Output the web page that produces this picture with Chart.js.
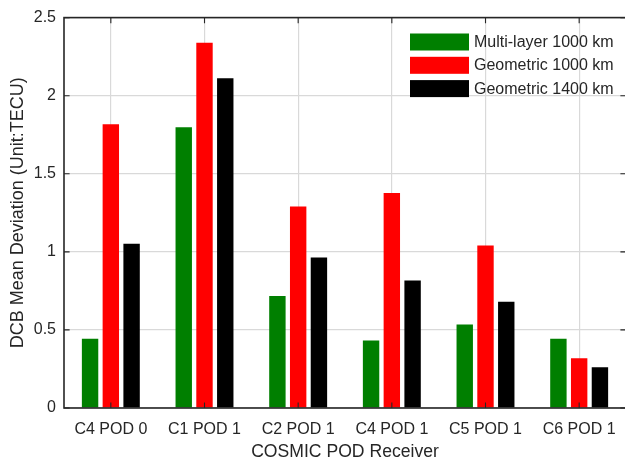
<!DOCTYPE html>
<html>
<head>
<meta charset="utf-8">
<title>COSMIC POD Receiver DCB Mean Deviation</title>
<script src="https://cdn.jsdelivr.net/npm/chart.js@4.4.1/dist/chart.umd.min.js"></script>
<style>
  html, body { margin: 0; padding: 0; background: #ffffff; overflow: hidden; }
  #wrap { position: relative; width: 625px; height: 463px; overflow: hidden; }
  canvas { position: absolute; left: 0; top: 0; }
</style>
</head>
<body>
<div id="wrap"><canvas id="chart" width="628" height="463"></canvas></div>
<script>
// Receivers on the x axis
const receivers = ['C4 POD 0', 'C1 POD 1', 'C2 POD 1', 'C4 POD 1', 'C5 POD 1', 'C6 POD 1'];

// DCB mean deviation per receiver (TECU)
const multiLayer1000 = [0.443, 1.798, 0.717, 0.433, 0.534, 0.443];
const geometric1000  = [1.817, 2.339, 1.291, 1.376, 1.041, 0.318];
const geometric1400  = [1.052, 2.112, 0.963, 0.816, 0.681, 0.261];

// Y axis ticks
const yTickValues = [0, 0.5, 1, 1.5, 2, 2.5];
const yTickLabels = ['0', '0.5', '1', '1.5', '2', '2.5'];

const seriesNames  = ['Multi-layer 1000 km', 'Geometric 1000 km', 'Geometric 1400 km'];
const seriesColors = ['#007f00', '#ff0000', '#000000'];

const FONT = '"Liberation Sans", Arial, Helvetica, sans-serif';
const INK = '#262626';
const GRID = '#d9d9d9';

// Box around the plot with short inward tick marks on all four sides
const framePlugin = {
  id: 'frame',
  afterDatasetsDraw(chart) {
    const { ctx, chartArea: a, scales } = chart;
    const len = 5.6;
    ctx.save();
    ctx.strokeStyle = INK;
    ctx.lineWidth = 1.1;
    ctx.beginPath();
    scales.x.ticks.forEach((t, i) => {
      const x = scales.x.getPixelForTick(i);
      ctx.moveTo(x, a.bottom); ctx.lineTo(x, a.bottom - len);
      ctx.moveTo(x, a.top);    ctx.lineTo(x, a.top + len);
    });
    scales.y.ticks.forEach((t, i) => {
      const y = scales.y.getPixelForValue(t.value);
      ctx.moveTo(a.left, y);  ctx.lineTo(a.left + len, y);
      ctx.moveTo(a.right, y); ctx.lineTo(a.right - len, y);
    });
    ctx.stroke();
    ctx.lineWidth = 1.6;
    ctx.strokeRect(a.left, a.top, a.right - a.left, a.bottom - a.top);
    ctx.restore();
  }
};

// Legend placed inside the upper right of the plot
const insideLegend = {
  id: 'insideLegend',
  afterDraw(chart) {
    const { ctx } = chart;
    const x0 = 410, y0 = 33.5, boxW = 59, boxH = 17, step = 23.3;
    ctx.save();
    ctx.font = '16px ' + FONT;
    ctx.textBaseline = 'middle';
    ctx.textAlign = 'left';
    chart.data.datasets.forEach((ds, i) => {
      const y = y0 + i * step;
      ctx.fillStyle = ds.backgroundColor;
      ctx.fillRect(x0, y, boxW, boxH);
      ctx.fillStyle = INK;
      ctx.fillText(ds.label, x0 + boxW + 5, y + boxH / 2 + 0.5);
    });
    ctx.restore();
  }
};

const datasets = [multiLayer1000, geometric1000, geometric1400].map((values, i) => ({
  label: seriesNames[i],
  data: values,
  backgroundColor: seriesColors[i],
  borderWidth: 0,
  categoryPercentage: 0.665,
  barPercentage: 0.79
}));

new Chart(document.getElementById('chart'), {
  type: 'bar',
  data: { labels: receivers, datasets },
  options: {
    responsive: false,
    animation: false,
    devicePixelRatio: 1,
    layout: { padding: { left: 0, top: 15, right: 2, bottom: 0 } },
    plugins: { legend: { display: false }, tooltip: { enabled: false } },
    scales: {
      x: {
        afterFit(scale) { scale.height = 55; },
        grid: { offset: false, color: GRID, lineWidth: 1.2, drawTicks: false },
        border: { display: false },
        ticks: { color: INK, font: { family: FONT, size: 16 }, padding: 12, maxRotation: 0 },
        title: {
          display: true,
          text: 'COSMIC POD Receiver',
          color: INK,
          font: { family: FONT, size: 17.6 },
          padding: { top: 0, bottom: 0 }
        }
      },
      y: {
        min: 0,
        max: 2.5,
        afterFit(scale) { scale.width = 64; },
        afterBuildTicks(scale) { scale.ticks = yTickValues.map(v => ({ value: v })); },
        grid: { color: GRID, lineWidth: 1.2, drawTicks: false },
        border: { display: false },
        ticks: {
          color: INK,
          font: { family: FONT, size: 16 },
          padding: 8,
          callback: (v) => yTickLabels[yTickValues.indexOf(v)]
        },
        title: {
          display: true,
          text: 'DCB Mean Deviation (Unit:TECU)',
          color: INK,
          font: { family: FONT, size: 18 },
          padding: { top: 7.2, bottom: 0 }
        }
      }
    }
  },
  plugins: [framePlugin, insideLegend]
});
</script>
</body>
</html>
